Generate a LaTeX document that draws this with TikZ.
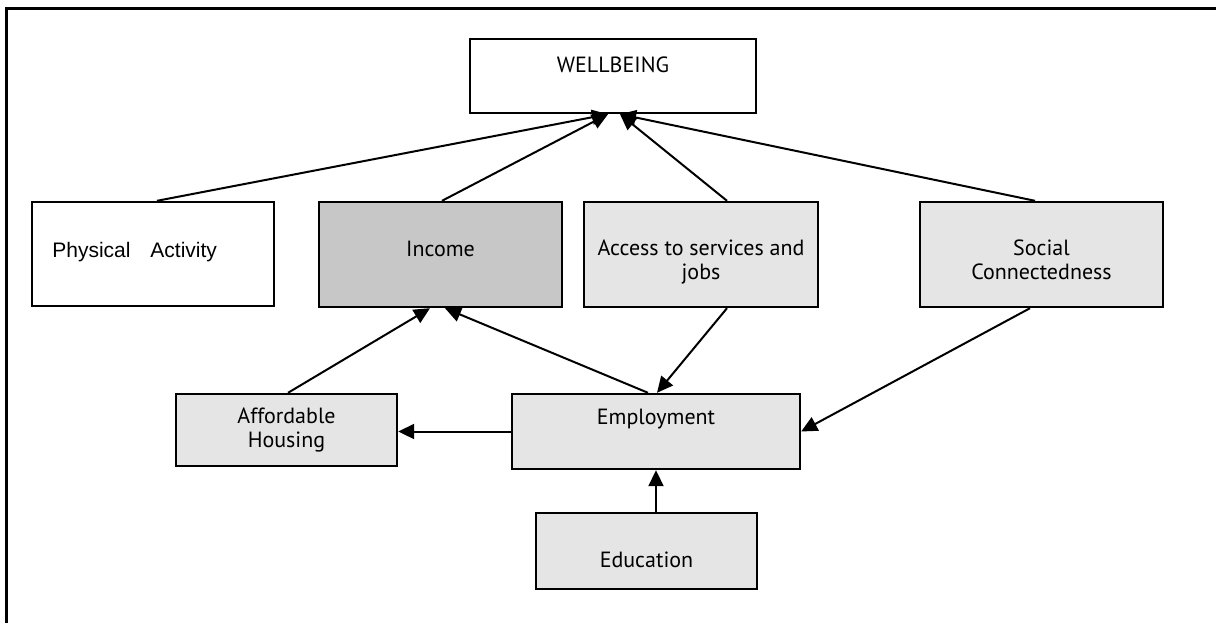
\documentclass[tikz,border=0pt]{standalone}
\usepackage{fontspec}
\setmainfont{PT Sans}
\newfontfamily\arialfont{Liberation Sans}
\usetikzlibrary{arrows.meta}
\definecolor{lightfill}{gray}{0.90}
\definecolor{darkfill}{gray}{0.78}
\tikzset{
  box/.style={draw=black, line width=1.2pt, rectangle, inner sep=0pt},
  plainbox/.style={box, fill=white},
  shadedbox/.style={box, fill=lightfill},
  darkbox/.style={box, fill=darkfill},
  lbl/.style={inner sep=0pt, font=\fontsize{11}{12}\selectfont, align=center, anchor=base},
  arr/.style={line width=1pt, -{Triangle[length=8pt,width=7.5pt]}},
}
\begin{document}
\begin{tikzpicture}[x=0.5pt, y=-0.5pt]
\useasboundingbox (0,0) rectangle (1216,623);
% frame
\draw[line width=1.5pt] (6,623) -- (6,8) -- (1216,8);

% boxes
\node[plainbox,  minimum width=143pt,   minimum height=37pt]   (wb)  at (613,76) {};
\node[plainbox,  minimum width=121pt,   minimum height=52pt]   (pa)  at (153,254) {};
\node[darkbox,   minimum width=121.5pt, minimum height=52.5pt] (inc) at (440.5,254.5) {};
\node[shadedbox, minimum width=117pt,   minimum height=52.5pt] (acc) at (701,254.5) {};
\node[shadedbox, minimum width=121.5pt, minimum height=52.5pt] (soc) at (1041.5,254.5) {};
\node[shadedbox, minimum width=110.5pt, minimum height=36pt]   (ah)  at (286.5,430) {};
\node[shadedbox, minimum width=144pt,   minimum height=37.5pt] (emp) at (656,431.5) {};
\node[shadedbox, minimum width=110.5pt, minimum height=38pt]   (edu) at (646.5,551) {};

% labels (multi-line labels are placed by the baseline of their last line)
\node[lbl] (wbt)  at (613,72) {WELLBEING};
\node[lbl, anchor=base west, font=\arialfont\fontsize{10.5}{12}\selectfont] (pat) at (52,257) {Physical\hspace{7pt} Activity};
\node[lbl] (inct) at (440.5,256) {Income};
\node[lbl] (acct) at (701,279) {Access to services and\\jobs};
\node[lbl] (soct) at (1041.5,279) {Social\\Connectedness};
\node[lbl] (aht)  at (286.5,447) {Affordable\\Housing};
\node[lbl] (empt) at (656,424) {Employment};
\node[lbl] (edut) at (646.5,567) {Education};

% connectors
\draw[arr] ([xshift=2pt]pa.north)     -- ([xshift=-2.5pt]wb.south);
\draw[arr] ([xshift=0.75pt]inc.north) -- ([xshift=-2.5pt]wb.south);
\draw[arr] ([xshift=13pt]acc.north)   -- ([xshift=3.5pt]wb.south);
\draw[arr] ([xshift=-3.25pt]soc.north) -- ([xshift=3.5pt]wb.south);
\draw[arr] ([xshift=0.75pt]ah.north)  -- ([xshift=-5.25pt]inc.south);
\draw[arr] ([xshift=-4pt]emp.north)   -- ([xshift=2.25pt]inc.south);
\draw[arr] ([xshift=13pt]acc.south)   -- ([xshift=0.5pt]emp.north);
\draw[arr] ([xshift=-5.75pt]soc.south) -- (emp.east);
\draw[arr] (emp.west) -- (emp.west -| ah.east);
\draw[arr] (edu.north -| emp.south) -- (emp.south);
\end{tikzpicture}
\end{document}
